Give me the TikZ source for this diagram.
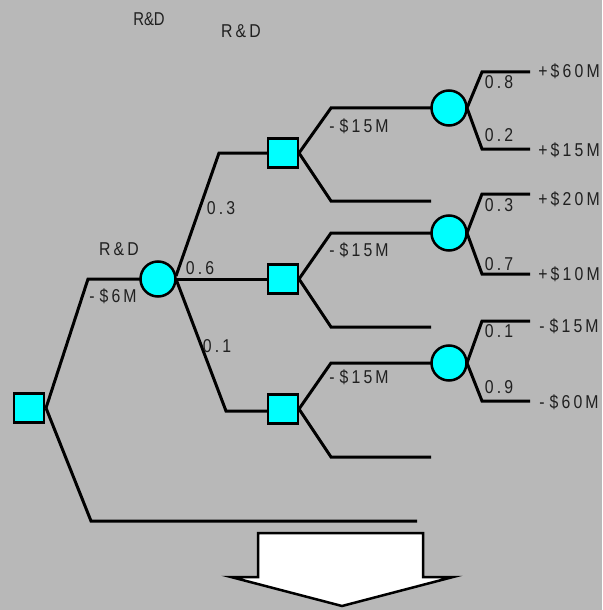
\documentclass[tikz,border=0pt]{standalone}
\usepackage{fontspec}
\newfontfamily\lblfont[FakeStretch=0.85,LetterSpace=17]{Liberation Sans}
\newfontfamily\rdfont[FakeStretch=0.8]{Liberation Sans}
\definecolor{bggray}{HTML}{B8B8B8}
\definecolor{nodecyan}{HTML}{00FFFF}
\definecolor{txt}{HTML}{202020}
\newcommand{\mn}{-\kern2.5pt}
\begin{document}
\begin{tikzpicture}[x=0.5pt,y=-0.5pt,
  dec/.style={rectangle, draw=black, line width=1.25pt, fill=nodecyan, minimum width=15pt, minimum height=14.5pt, inner sep=0pt},
  chance/.style={circle, draw=black, line width=1.25pt, fill=nodecyan, minimum size=17.5pt, inner sep=0pt},
  br/.style={line width=1.5pt, line join=miter},
  lbl/.style={font=\lblfont\fontsize{9.3}{10}\selectfont, inner sep=0pt, text=txt},
  rd/.style={font=\rdfont\fontsize{9.3}{10}\selectfont, inner sep=0pt, text=txt}]
\fill[bggray] (0,0) rectangle (602,610);
\useasboundingbox (0,0) rectangle (602,610);

% corner and end coordinates
\coordinate (k0u) at (88,279);
\coordinate (k0d) at (91,521);
\coordinate (e0) at (417,521);
\coordinate (ka) at (219,153);
\coordinate (kc) at (226,411);
\coordinate (k1u) at (331,108);
\coordinate (k1d) at (331,201);
\coordinate (e1) at (431,201);
\coordinate (k2u) at (331,233);
\coordinate (k2d) at (331,327);
\coordinate (e2) at (431,327);
\coordinate (k3u) at (331,363);
\coordinate (k3d) at (331,457);
\coordinate (e3) at (431,457);
\coordinate (p1u) at (482,72);  \coordinate (q1u) at (530,72);
\coordinate (p1d) at (482,149); \coordinate (q1d) at (530,149);
\coordinate (p2u) at (482,194); \coordinate (q2u) at (530,194);
\coordinate (p2d) at (482,274); \coordinate (q2d) at (530,274);
\coordinate (p3u) at (482,321); \coordinate (q3u) at (530,321);
\coordinate (p3d) at (482,401); \coordinate (q3d) at (530,401);

% connectors (drawn first, nodes on top)
\draw[br] (29,408) ++(17,0) coordinate (d0e) -- (k0u) -- (158,279);
\draw[br] (d0e) -- (k0d) -- (e0);
\draw[br] (158,279) ++(18,-3) coordinate (c0e) -- (ka) -- (283,153);
\draw[br] (158,279) -- (283,279);
\draw[br] (c0e) ++(0,3) -- (kc) -- (283,411);
\draw[br] (283,153) ++(16,0) coordinate (d1e) -- (k1u) -- (449,108);
\draw[br] (d1e) -- (k1d) -- (e1);
\draw[br] (283,279) ++(16,0) coordinate (d2e) -- (k2u) -- (449,233);
\draw[br] (d2e) -- (k2d) -- (e2);
\draw[br] (283,409) ++(16,0) coordinate (d3e) -- (k3u) -- (449,363);
\draw[br] (d3e) -- (k3d) -- (e3);
\draw[br] (449,108) ++(18,0) coordinate (c1e) -- (p1u) -- (q1u);
\draw[br] (c1e) -- (p1d) -- (q1d);
\draw[br] (449,233) ++(18,0) coordinate (c2e) -- (p2u) -- (q2u);
\draw[br] (c2e) -- (p2d) -- (q2d);
\draw[br] (449,363) ++(18,0) coordinate (c3e) -- (p3u) -- (q3u);
\draw[br] (c3e) -- (p3d) -- (q3d);

% nodes
\node[dec] (d0) at (29,408) {};
\node[chance] (c0) at (158,279) {};
\node[dec] (d1) at (283,153) {};
\node[dec] (d2) at (283,279) {};
\node[dec] (d3) at (283,409) {};
\node[chance] (c1) at (449,108) {};
\node[chance] (c2) at (449,233) {};
\node[chance] (c3) at (449,363) {};

% arrow
\filldraw[fill=white, draw=black, line width=1.25pt]
  (258,533) -- (423,533) -- (423,577) -- (453,577) -- (342,606) -- (231,577) -- (258,577) -- cycle;

% labels
\node[rd] (t0) at (149,19) {R\&D};
\node[lbl] (t1) at (241,31) {R\&D};
\node[lbl] (t2) at (119,249) {R\&D};
\node[lbl] (t3) at (113,296) {\mn\$6M};
\node[lbl] (pa) at (221,208) {0.3};
\node[lbl] (pb) at (200,268) {0.6};
\node[lbl] (pc) at (217,346) {0.1};
\node[lbl] (m1) at (359,126) {\mn\$15M};
\node[lbl] (m2) at (359,250) {\mn\$15M};
\node[lbl] (m3) at (359,377) {\mn\$15M};
\node[lbl] (r1) at (499,82) {0.8};
\node[lbl] (r2) at (499,135) {0.2};
\node[lbl] (r3) at (499,205) {0.3};
\node[lbl] (r4) at (499,264) {0.7};
\node[lbl] (r5) at (499,331) {0.1};
\node[lbl] (r6) at (499,387) {0.9};
\node[lbl] (v1) at (569,71) {+\$60M};
\node[lbl] (v2) at (569,150) {+\$15M};
\node[lbl] (v3) at (569,199) {+\$20M};
\node[lbl] (v4) at (569,274) {+\$10M};
\node[lbl] (v5) at (569,326) {\mn\$15M};
\node[lbl] (v6) at (569,402) {\mn\$60M};
\end{tikzpicture}
\end{document}
